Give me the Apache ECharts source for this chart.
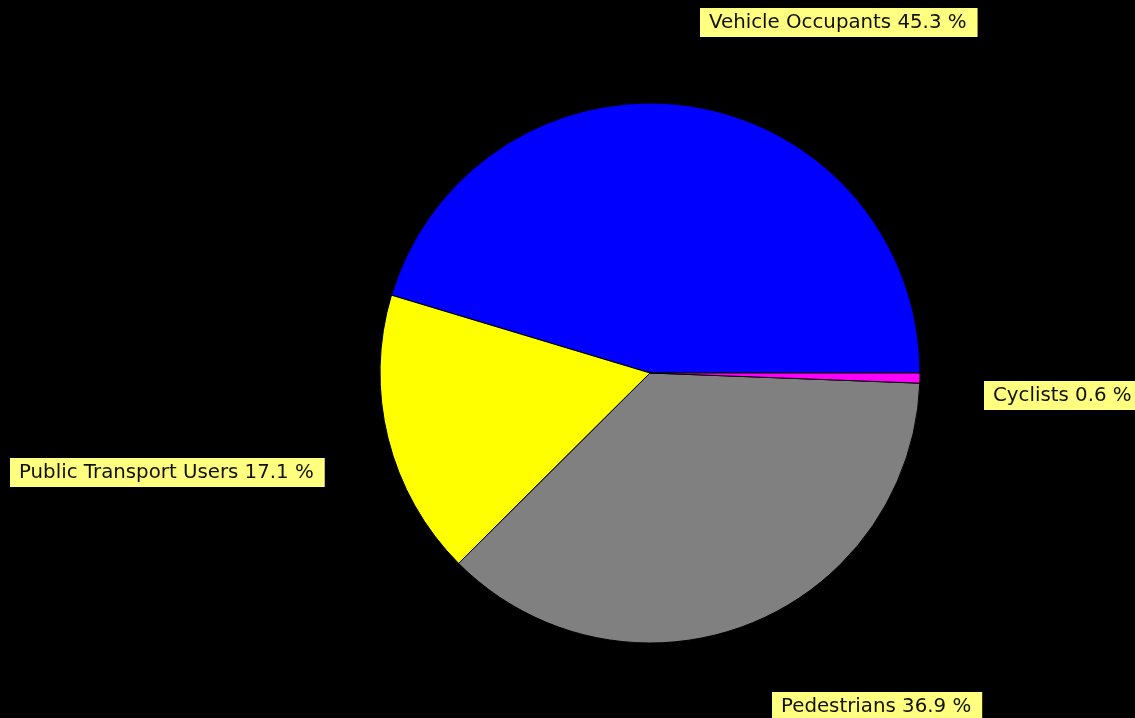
<!DOCTYPE html>
<html>
<head>
<meta charset="utf-8">
<script src="https://cdn.jsdelivr.net/npm/echarts@6/dist/echarts.min.js"></script>
<style>
  html, body { margin: 0; padding: 0; background: #000; }
  #chart { width: 1135px; height: 718px; }
</style>
</head>
<body>
<div id="chart"></div>
<script>
// Road casualties by user group (percent of total)
const categories = ['Vehicle Occupants', 'Public Transport Users', 'Pedestrians', 'Cyclists'];
const shares = [45.3, 17.1, 36.9, 0.6];
const sliceColors = ['#0000ff', '#ffff00', '#808080', '#ff00ff'];

// Where each label box sits (top-left corner, pixels)
const labelSpots = [[700, 8], [10, 458], [772, 692], [984, 381]];

const chart = echarts.init(document.getElementById('chart'), null, { renderer: 'canvas' });

chart.setOption({
  backgroundColor: '#000000',
  animation: false,
  series: [{
    type: 'pie',
    center: [650, 373],
    radius: 270,
    startAngle: 0,
    clockwise: false,
    avoidLabelOverlap: false,
    data: categories.map((name, i) => ({
      name: name,
      value: shares[i],
      itemStyle: { color: sliceColors[i] }
    })),
    itemStyle: { borderColor: '#000000', borderWidth: 1 },
    emphasis: { disabled: true },
    label: {
      show: true,
      formatter: '{b} {c} %',
      fontFamily: 'DejaVu Sans',
      fontSize: 19.8,
      lineHeight: 19,
      color: '#111100',
      backgroundColor: '#ffff80',
      borderColor: '#000000',
      borderWidth: 1,
      padding: [5, 11, 5, 9]
    },
    labelLine: { show: false },
    labelLayout: function (params) {
      const p = labelSpots[params.dataIndex];
      return { x: p[0], y: p[1], align: 'left', verticalAlign: 'top' };
    }
  }]
});
</script>
</body>
</html>
